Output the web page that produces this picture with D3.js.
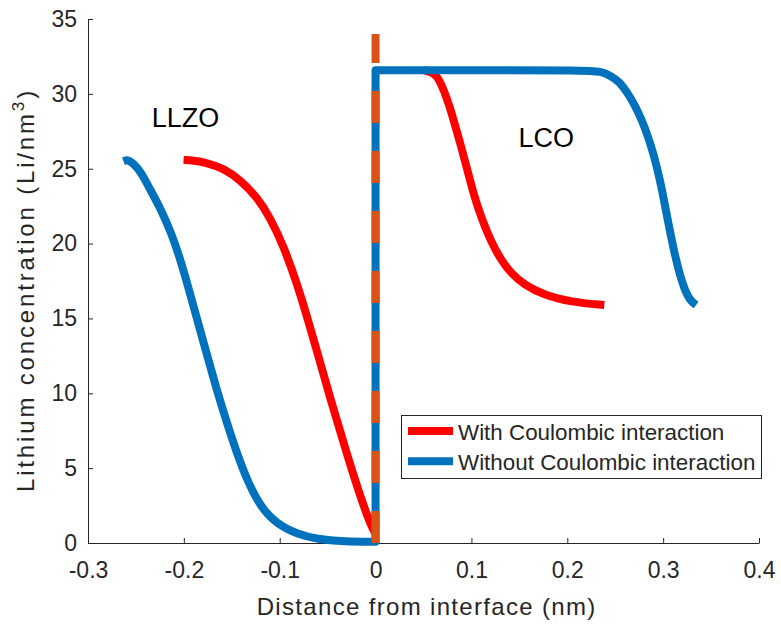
<!DOCTYPE html>
<html>
<head>
<meta charset="utf-8">
<script src="https://cdn.jsdelivr.net/npm/d3@7"></script>
<style>
  html, body { margin: 0; padding: 0; background: #fff; }
  svg { display: block; font-family: "Liberation Sans", Arial, Helvetica, sans-serif; }
</style>
</head>
<body>
<svg id="chart" width="781" height="624"></svg>
<script>
// ---------- data ----------
const xTicks = [-0.3, -0.2, -0.1, 0, 0.1, 0.2, 0.3, 0.4];
const xTickLabels = ["-0.3", "-0.2", "-0.1", "0", "0.1", "0.2", "0.3", "0.4"];
const yTicks = [0, 5, 10, 15, 20, 25, 30, 35];
const yTickLabels = ["0", "5", "10", "15", "20", "25", "30", "35"];

const seriesNames = ["With Coulombic interaction", "Without Coulombic interaction"];

// With Coulombic interaction (red): LLZO side
const withLLZO = [
  [-0.2003, 25.58], [-0.19, 25.55], [-0.179, 25.45], [-0.1585, 25.03],
  [-0.141, 24.24], [-0.1236, 23.1], [-0.1097, 21.7], [-0.0958, 19.8],
  [-0.0818, 17.3], [-0.07, 14.8], [-0.0605, 12.66], [-0.0505, 10.4],
  [-0.04, 8.1], [-0.0296, 5.9], [-0.0191, 3.74], [-0.0087, 1.8],
  [-0.003, 0.95], [0, 0.65]
];
// With Coulombic interaction (red): LCO side
const withLCO = [
  [0.05, 31.58], [0.06, 31.45], [0.066, 31.0], [0.0715, 30.2], [0.077, 29.2],
  [0.0825, 28.0], [0.0888, 26.6], [0.0958, 24.9], [0.1027, 23.2],
  [0.1105, 21.7], [0.12, 20.2], [0.13, 19.0], [0.1415, 18.0], [0.155, 17.25],
  [0.1759, 16.56], [0.2038, 16.1], [0.2386, 15.89]
];
// Without Coulombic interaction (blue): LLZO side
const withoutLLZO = [
  [-0.263, 25.5], [-0.258, 25.62], [-0.252, 25.3], [-0.245, 24.8],
  [-0.236, 23.7], [-0.2247, 22.4], [-0.213, 20.7], [-0.204, 19.0],
  [-0.195, 17.0], [-0.186, 14.9], [-0.176, 12.6], [-0.166, 10.3],
  [-0.155, 8.0], [-0.1446, 5.98], [-0.134, 4.19], [-0.1202, 2.41],
  [-0.1027, 1.25], [-0.0818, 0.6], [-0.061, 0.25], [-0.033, 0.1], [0, 0.08]
];
// Without Coulombic interaction (blue): LCO side
const withoutLCO = [
  [0, 31.58], [0.1, 31.58], [0.22, 31.58], [0.235, 31.5], [0.2456, 31.2],
  [0.2545, 30.8], [0.2625, 30.1], [0.27, 29.3], [0.2775, 28.3],
  [0.2845, 27.1], [0.2908, 25.8], [0.2965, 24.3], [0.3015, 22.7],
  [0.3065, 21.0], [0.3117, 19.4], [0.317, 18.0], [0.3225, 16.9],
  [0.328, 16.2], [0.3344, 15.9]
];
// interface line
const interfaceLine = [[0, 0], [0, 34]];

const regionLabels = ["LLZO", "LCO"];
const regionPos = [[-0.2336, 27.78], [0.149, 26.47]];

// ---------- layout ----------
const svg = d3.select("#chart");
const x = d3.scaleLinear().domain([-0.3, 0.4]).range([88, 759]);
const y = d3.scaleLinear().domain([0, 35]).range([543, 19]);

const axisColor = "#262626";
const red = "#FF0000", blue = "#0072BD", orange = "#D95319";

// axes
const gx = svg.append("g").attr("transform", "translate(0,543)")
  .call(d3.axisBottom(x).tickValues(xTicks)
    .tickFormat((d, i) => xTickLabels[i])
    .tickSizeInner(-5).tickSizeOuter(0).tickPadding(19));
const gy = svg.append("g").attr("transform", "translate(88,0)")
  .call(d3.axisLeft(y).tickValues(yTicks)
    .tickFormat((d, i) => yTickLabels[i])
    .tickSizeInner(-5).tickSizeOuter(0).tickPadding(11));
[gx, gy].forEach(g => {
  g.select(".domain").attr("stroke", axisColor).attr("stroke-width", 1);
  g.selectAll(".tick line").attr("stroke", axisColor);
  g.selectAll(".tick text").attr("fill", axisColor)
    .style("font-size", "23px").style("font-family", "'Liberation Sans', Arial, sans-serif");
});

// lines
const line = d3.line().x(d => x(d[0])).y(d => y(d[1])).curve(d3.curveBasis);
const lineLin = d3.line().x(d => x(d[0])).y(d => y(d[1]));

// red
svg.append("path")
  .attr("d", line(withLLZO) + line(withLCO))
  .attr("fill", "none").attr("stroke", red).attr("stroke-width", 8)
  .attr("stroke-linejoin", "round");

// blue (joined via vertical at interface)
svg.append("path")
  .attr("d", line(withoutLLZO) + line(withoutLCO).replace(/^M/, "L"))
  .attr("fill", "none").attr("stroke", blue).attr("stroke-width", 8)
  .attr("stroke-linejoin", "round");

// orange dashed interface
svg.append("path")
  .attr("d", lineLin(interfaceLine))
  .attr("fill", "none").attr("stroke", orange).attr("stroke-width", 8)
  .attr("stroke-dasharray", "32,28");

// region labels
svg.selectAll(".region").data(regionLabels).enter().append("text")
  .attr("x", (d, i) => x(regionPos[i][0]))
  .attr("y", (d, i) => y(regionPos[i][1]))
  .attr("fill", "#000").style("font-size", "27px")
  .text(d => d);

// fit text to a target length via letter-spacing
function fitSpacing(sel, target, nChars) {
  const natural = sel.node().getComputedTextLength();
  const ls = (target - natural) / nChars;
  sel.style("letter-spacing", ls + "px");
}

// axis labels
const xl = svg.append("text")
  .attr("x", 426.7).attr("y", 615).attr("text-anchor", "middle")
  .attr("fill", axisColor).style("font-size", "24px")
  .text("Distance from interface (nm)");
fitSpacing(xl, 340, 28);

const yl = svg.append("text")
  .attr("transform", "translate(34,290) rotate(-90)")
  .attr("text-anchor", "middle")
  .attr("fill", axisColor).style("font-size", "24px");
yl.append("tspan").text("Lithium concentration (Li/nm");
yl.append("tspan").attr("dy", -10).style("font-size", "17px").text("3");
yl.append("tspan").attr("dy", 10).text(")");
fitSpacing(yl, 404, 30);

// legend
const lg = svg.append("g");
lg.append("rect").attr("x", 401.5).attr("y", 415.5).attr("width", 360).attr("height", 63)
  .attr("fill", "#fff").attr("stroke", axisColor).attr("stroke-width", 1);
const legendColors = [red, blue];
seriesNames.forEach((name, i) => {
  const ly = 431 + i * 30.3;
  lg.append("line").attr("x1", 408).attr("x2", 453).attr("y1", ly).attr("y2", ly)
    .attr("stroke", legendColors[i]).attr("stroke-width", 8);
  lg.append("text").attr("x", 458).attr("y", ly + 8.5)
    .attr("fill", axisColor).style("font-size", "22.4px").text(name);
});
</script>
</body>
</html>
